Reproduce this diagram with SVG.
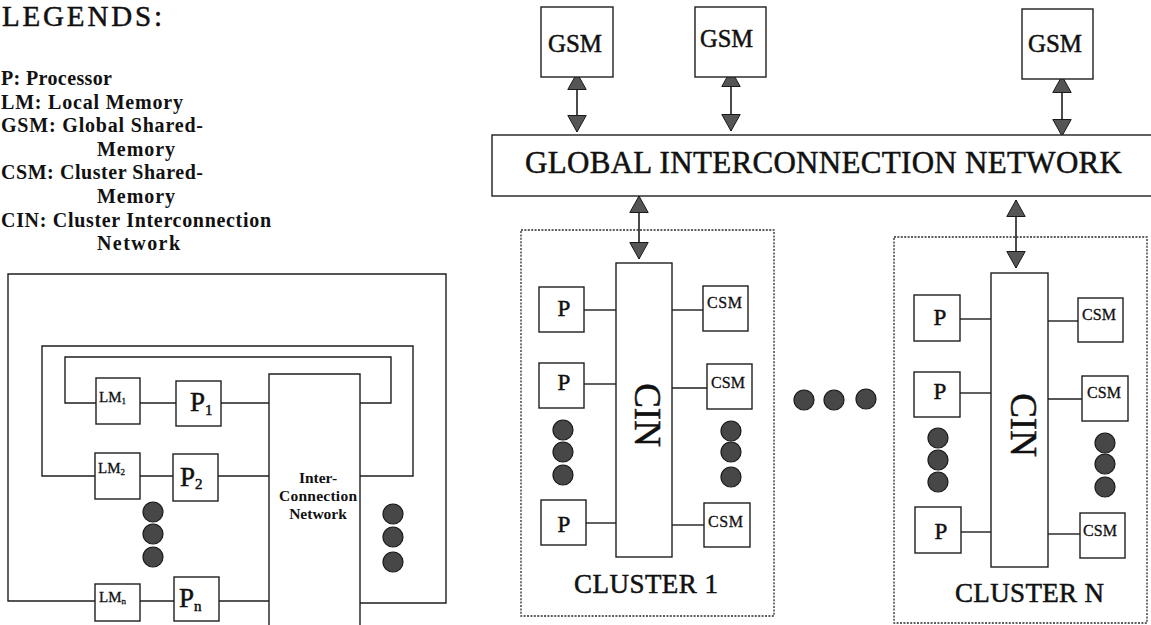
<svg xmlns="http://www.w3.org/2000/svg" width="1151" height="625" viewBox="0 0 1151 625">
<style>
  .ln{fill:none;stroke:#1e1e1e;stroke-width:1.4}
  .bx{fill:#fff;stroke:#1e1e1e;stroke-width:1.4}
  .dot{fill:#474747;stroke:#1a1a1a;stroke-width:1.2}
  .cl{fill:none;stroke:#2a2a2a;stroke-width:1.3;stroke-dasharray:2 1.4}
  .arr{fill:none;stroke:#1e1e1e;stroke-width:1.6;marker-start:url(#ah);marker-end:url(#ah)}
  text{font-family:"Liberation Serif","Times New Roman",serif;fill:#111;stroke:#111;stroke-width:0.5}
  .lg{font-size:20px;font-weight:bold;stroke-width:0}
  .net{font-size:15.5px;font-weight:bold;text-anchor:middle;stroke-width:0}
  .big{font-size:31px}
  .gsm{font-size:25px}
  .p{font-size:23px;text-anchor:middle}
  .csm{font-size:16px;stroke-width:0.3}
  .cin{font-size:37px;text-anchor:middle}
  .clt{font-size:27px}
  .lm{font-size:15px;stroke-width:0.3}
  .pl{font-size:27px}
</style>
<defs>
  <marker id="ah" markerUnits="userSpaceOnUse" markerWidth="19" markerHeight="21" refX="17" refY="10" orient="auto-start-reverse">
    <path d="M0.5,0.8 L17,10 L0.5,19.2 z" fill="#555" stroke="#1a1a1a" stroke-width="1"/>
  </marker>
</defs>

<g id="legend">
  <text x="2" y="26" font-size="29" textLength="160" lengthAdjust="spacing">LEGENDS:</text>
  <text class="lg" x="1" y="85" textLength="111" lengthAdjust="spacing">P: Processor</text>
  <text class="lg" x="1" y="109" textLength="182" lengthAdjust="spacing">LM: Local Memory</text>
  <text class="lg" x="1" y="132" textLength="202" lengthAdjust="spacing">GSM: Global Shared-</text>
  <text class="lg" x="97" y="156" textLength="78" lengthAdjust="spacing">Memory</text>
  <text class="lg" x="1" y="179" textLength="202" lengthAdjust="spacing">CSM: Cluster Shared-</text>
  <text class="lg" x="97" y="203" textLength="78" lengthAdjust="spacing">Memory</text>
  <text class="lg" x="1" y="227" textLength="270" lengthAdjust="spacing">CIN: Cluster Interconnection</text>
  <text class="lg" x="97" y="250" textLength="83" lengthAdjust="spacing">Network</text>
</g>

<!-- Left diagram -->
<g id="left-connectors">
  <polyline class="ln" points="96,403 65,403 65,357 391,357 391,403 360,403"/>
  <polyline class="ln" points="95,476 42,476 42,346 413,346 413,476 360,476"/>
  <polyline class="ln" points="95,601 8,601 8,274 446,274 446,603 360,603"/>
  <line class="ln" x1="140" y1="403" x2="176" y2="403"/>
  <line class="ln" x1="221" y1="403" x2="269" y2="403"/>
  <line class="ln" x1="140" y1="476" x2="173" y2="476"/>
  <line class="ln" x1="218" y1="476" x2="269" y2="476"/>
  <line class="ln" x1="140" y1="601" x2="174" y2="601"/>
  <line class="ln" x1="219" y1="601" x2="269" y2="601"/>
</g>
<g id="left-icn">
  <path class="bx" d="M269,630 V374 H360 V630"/>
  <text class="net" x="318" y="483">Inter-</text>
  <text class="net" x="318" y="501" textLength="78" lengthAdjust="spacing">Connection</text>
  <text class="net" x="318" y="519">Network</text>
</g>
<g id="lm1"><rect class="bx" x="96" y="378" width="44" height="46"/><text class="lm" x="99" y="402">LM<tspan font-size="9" dy="2">1</tspan></text></g>
<g id="p1"><rect class="bx" x="176" y="381" width="45" height="45"/><text class="pl" x="190" y="411">P<tspan font-size="15" dy="4">1</tspan></text></g>
<g id="lm2"><rect class="bx" x="95" y="453" width="45" height="46"/><text class="lm" x="98" y="473">LM<tspan font-size="9" dy="2">2</tspan></text></g>
<g id="p2"><rect class="bx" x="173" y="454" width="45" height="47"/><text class="pl" x="180" y="486">P<tspan font-size="15" dy="3">2</tspan></text></g>
<g id="lmn"><rect class="bx" x="95" y="584" width="45" height="37"/><text class="lm" x="99" y="602">LM<tspan font-size="9" dy="2">n</tspan></text></g>
<g id="pn"><rect class="bx" x="174" y="577" width="45" height="44"/><text class="pl" x="179" y="607">P<tspan font-size="15" dy="4">n</tspan></text></g>
<g id="left-dots">
  <circle class="dot" cx="153" cy="512" r="10"/><circle class="dot" cx="153" cy="534" r="10"/><circle class="dot" cx="153" cy="557" r="10"/>
  <circle class="dot" cx="393" cy="514" r="10"/><circle class="dot" cx="393" cy="537" r="10"/><circle class="dot" cx="393" cy="562" r="10"/>
</g>

<!-- Right diagram -->
<g id="connectors">
  <line class="arr" x1="577" y1="73" x2="577" y2="132"/>
  <line class="arr" x1="731" y1="70" x2="731" y2="131"/>
  <line class="arr" x1="1062" y1="76" x2="1062" y2="136"/>
  <line class="arr" x1="639" y1="196" x2="639" y2="259"/>
  <line class="arr" x1="1016" y1="200" x2="1016" y2="268"/>
  <line class="ln" x1="584" y1="310" x2="616" y2="310"/>
  <line class="ln" x1="584" y1="384" x2="616" y2="384"/>
  <line class="ln" x1="586" y1="523" x2="616" y2="523"/>
  <line class="ln" x1="672" y1="310" x2="703" y2="310"/>
  <line class="ln" x1="672" y1="388" x2="707" y2="388"/>
  <line class="ln" x1="672" y1="525" x2="704" y2="525"/>
  <line class="ln" x1="960" y1="319" x2="991" y2="319"/>
  <line class="ln" x1="960" y1="393" x2="991" y2="393"/>
  <line class="ln" x1="961" y1="532" x2="991" y2="532"/>
  <line class="ln" x1="1048" y1="321" x2="1078" y2="321"/>
  <line class="ln" x1="1048" y1="399" x2="1082" y2="399"/>
  <line class="ln" x1="1048" y1="534" x2="1080" y2="534"/>
</g>

<g id="gsm1"><rect class="bx" x="541" y="7" width="72" height="70"/><text class="gsm" x="548" y="52" textLength="54" lengthAdjust="spacingAndGlyphs">GSM</text></g>
<g id="gsm2"><rect class="bx" x="695" y="7" width="71" height="70"/><text class="gsm" x="700" y="47" textLength="53" lengthAdjust="spacingAndGlyphs">GSM</text></g>
<g id="gsm3"><rect class="bx" x="1022" y="9" width="71" height="70"/><text class="gsm" x="1028" y="52" textLength="54" lengthAdjust="spacingAndGlyphs">GSM</text></g>

<g id="gin">
  <rect class="bx" x="492" y="135" width="670" height="61"/>
  <text class="big" x="525" y="173" textLength="597" lengthAdjust="spacing">GLOBAL INTERCONNECTION NETWORK</text>
</g>

<g id="cluster1">
  <rect class="cl" x="521" y="230" width="253" height="386"/>
  <text class="clt" x="574" y="593" textLength="144" lengthAdjust="spacing">CLUSTER 1</text>
</g>
<g id="cin1"><rect class="bx" x="616" y="263" width="56" height="294"/><text class="cin" transform="translate(647,415) rotate(90)" x="0" y="0" dy="0.33em">CIN</text></g>
<g id="c1p1"><rect class="bx" x="539" y="287" width="45" height="45"/><text class="p" x="564" y="316">P</text></g>
<g id="c1p2"><rect class="bx" x="539" y="363" width="45" height="45"/><text class="p" x="564" y="390">P</text></g>
<g id="c1p3"><rect class="bx" x="541" y="500" width="45" height="45"/><text class="p" x="564" y="532">P</text></g>
<g id="c1csm1"><rect class="bx" x="703" y="286" width="45" height="45"/><text class="csm" x="707" y="308" textLength="35" lengthAdjust="spacing">CSM</text></g>
<g id="c1csm2"><rect class="bx" x="707" y="364" width="45" height="45"/><text class="csm" x="711" y="388" textLength="34" lengthAdjust="spacing">CSM</text></g>
<g id="c1csm3"><rect class="bx" x="704" y="503" width="46" height="44"/><text class="csm" x="708" y="527" textLength="35" lengthAdjust="spacing">CSM</text></g>
<g id="c1dots">
  <circle class="dot" cx="563" cy="430" r="10"/><circle class="dot" cx="563" cy="452" r="10"/><circle class="dot" cx="563" cy="475" r="10"/>
  <circle class="dot" cx="731" cy="431" r="10"/><circle class="dot" cx="731" cy="452" r="10"/><circle class="dot" cx="731" cy="477" r="10"/>
</g>

<g id="between-dots">
  <circle class="dot" cx="804" cy="400" r="10"/><circle class="dot" cx="834" cy="400" r="10"/><circle class="dot" cx="866" cy="399" r="10"/>
</g>

<g id="clusterN">
  <rect class="cl" x="894" y="237" width="253" height="386"/>
  <text class="clt" x="955" y="602" textLength="149" lengthAdjust="spacing">CLUSTER N</text>
</g>
<g id="cinN"><rect class="bx" x="991" y="273" width="57" height="294"/><text class="cin" transform="translate(1023,425) rotate(90)" x="0" y="0" dy="0.33em">CIN</text></g>
<g id="cNp1"><rect class="bx" x="914" y="295" width="46" height="46"/><text class="p" x="940" y="325">P</text></g>
<g id="cNp2"><rect class="bx" x="914" y="372" width="46" height="45"/><text class="p" x="940" y="399">P</text></g>
<g id="cNp3"><rect class="bx" x="915" y="507" width="46" height="46"/><text class="p" x="941" y="539">P</text></g>
<g id="cNcsm1"><rect class="bx" x="1078" y="298" width="45" height="44"/><text class="csm" x="1082" y="320" textLength="34" lengthAdjust="spacing">CSM</text></g>
<g id="cNcsm2"><rect class="bx" x="1082" y="376" width="46" height="45"/><text class="csm" x="1087" y="398" textLength="34" lengthAdjust="spacing">CSM</text></g>
<g id="cNcsm3"><rect class="bx" x="1080" y="513" width="45" height="45"/><text class="csm" x="1083" y="536" textLength="34" lengthAdjust="spacing">CSM</text></g>
<g id="cNdots">
  <circle class="dot" cx="938" cy="438" r="10"/><circle class="dot" cx="938" cy="460" r="10"/><circle class="dot" cx="938" cy="482" r="10"/>
  <circle class="dot" cx="1105" cy="443" r="10"/><circle class="dot" cx="1105" cy="464" r="10"/><circle class="dot" cx="1105" cy="487" r="10"/>
</g>
</svg>
